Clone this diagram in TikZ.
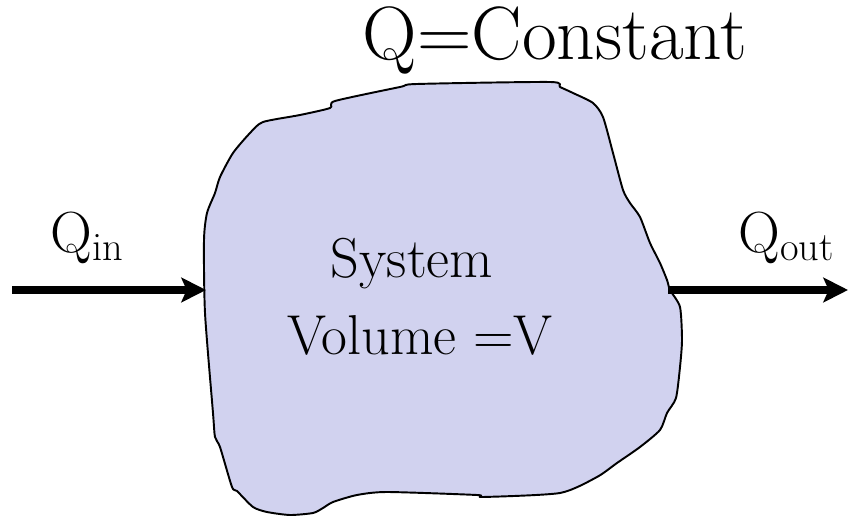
\documentclass[tikz,border=0pt]{standalone}
\usetikzlibrary{arrows.meta}
\definecolor{BlobFill}{RGB}{209,210,239}

\begin{document}
\begin{tikzpicture}[x=0.02cm, y=-0.02cm,
    >=Stealth,
    flow/.style={-{Stealth[length=14pt, width=14pt, inset=3pt]}, line width=4pt},
    wall/.style={line width=1.1pt, fill=BlobFill, line join=round},
    lbl/.style={inner sep=0pt},
    big/.style={font=\fontsize{43}{50}\selectfont},
    mid/.style={font=\fontsize{32}{38}\selectfont},
    sml/.style={font=\fontsize{33}{40}\selectfont},
  ]
  \useasboundingbox (0,0) rectangle (848,516);
  \draw[wall] plot[smooth cycle, tension=0.4] coordinates {
    (263,122) (300,115) (330,108) (335,101) (400,87) (417,84) (550,82)
    (560,87) (573,93) (593,103) (603,117) (613,153) (623,190) (630,203)
    (640,217) (650,243) (660,263) (667,280) (670,290) (680,307) (682,340)
    (680,367) (676,398) (667,413) (660,430) (640,447) (617,463) (597,477)
    (560,493) (483,497) (477,495) (387,492) (357,495) (333,502) (323,508)
    (313,513) (290,515) (267,512) (253,507) (237,491) (232,487) (220,447)
    (215,437) (213,413) (205,313) (204,240) (207,213) (215,193) (220,177)
    (233,153) (250,133)};
  \node[lbl, big, anchor=base] (title) at (555,60) {Q=Constant};
  \node[lbl, mid, anchor=base] (sys) at (412,278) {System};
  \node[lbl, mid, anchor=base] (vol) at (420,355) {Volume =V};
  \node[lbl, sml, anchor=base west] (qin) at (50,253)
    {Q\raisebox{-4pt}{\fontsize{23}{28}\selectfont in}};
  \node[lbl, sml, anchor=base west] (qout) at (738,253)
    {Q\raisebox{-4pt}{\fontsize{23}{28}\selectfont out}};
  \coordinate (inTail) at (12,290);
  \coordinate (inHead) at (206,290);
  \coordinate (outTail) at (668,290);
  \coordinate (outHead) at (848,290);
  \draw[flow] (inTail) -- (inHead);
  \draw[flow] (outTail) -- (outHead);
\end{tikzpicture}
\end{document}
